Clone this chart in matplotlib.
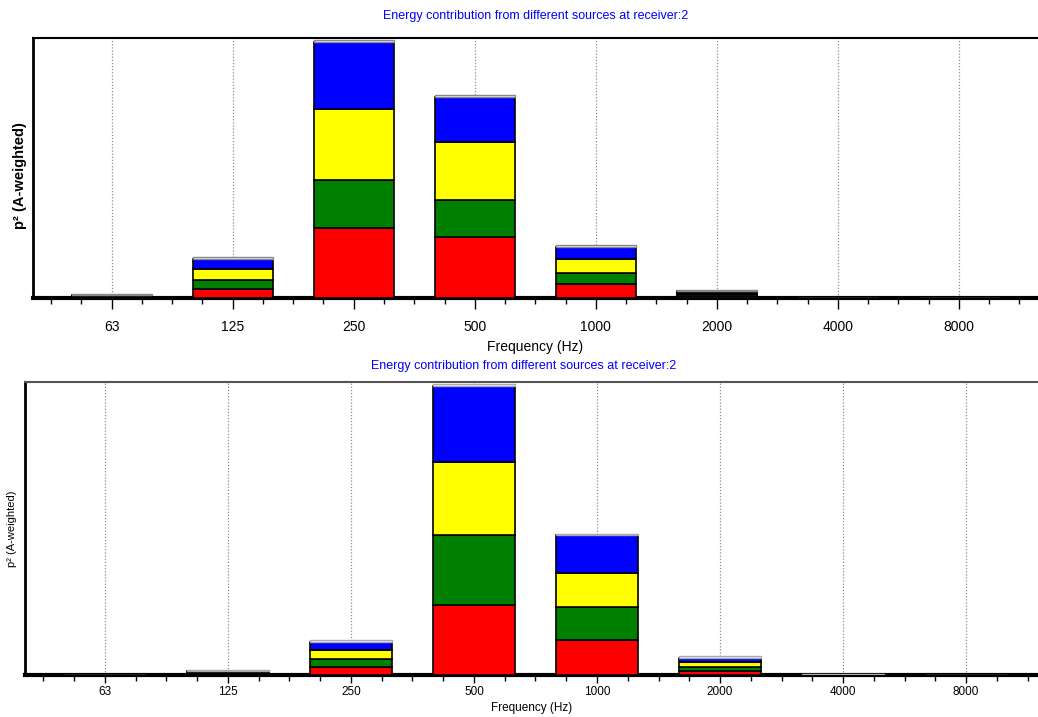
import matplotlib
matplotlib.use("Agg")
from matplotlib import pyplot as plt
from matplotlib.ticker import MultipleLocator
import numpy as np

freqs = ["63", "125", "250", "500", "1000", "2000", "4000", "8000"]

# p^2 per source, stacked bottom-up (arbitrary units)
top_red = [1.0, 9, 70, 61, 14, 2, 0, 0]
top_green = [1.5, 9, 48, 37, 11, 2, 0, 0]
top_yellow = [0.5, 11, 71, 58, 14, 1.5, 0, 0]
top_blue = [0.5, 10, 67, 45, 12, 1.5, 0, 0]
top_other = [1, 2, 2, 2, 2, 1, 0, 0]

bot_red = [0, 1.5, 8, 70, 35, 4, 0, 0]
bot_green = [0, 1, 8, 70, 33, 4, 0, 0]
bot_yellow = [0, 1, 9, 73, 34, 5, 0, 0]
bot_blue = [0, 1, 8, 76, 38, 4, 0, 0]
bot_other = [0, 1, 2, 2, 1.5, 2, 1, 0]

colors = ["#ff0000", "#008000", "#ffff00", "#0000ff"]
title = "Energy contribution from different sources at receiver:2"

fonts = ["Liberation Sans", "DejaVu Sans"]

fig = plt.figure(figsize=(10.38, 7.17), dpi=100)


def draw(ax, series, other, ylim, xlim, tsize, lsize, ysize, ybold, other_edge,
         ticklen, tickpad, xlabpad):
    x = np.arange(len(freqs))
    ax.set_axisbelow(True)
    ax.grid(True, axis="x", which="major", linestyle=(0, (1, 1.5)), color="#8c8c8c", linewidth=0.9)
    bottom = np.zeros(len(freqs))
    for vals, c in zip(series, colors):
        ax.bar(x, vals, width=0.66, bottom=bottom, color=c, edgecolor="black", linewidth=1.2, zorder=3)
        bottom += np.array(vals)
    ax.bar(x, other, width=0.66, bottom=bottom, color="white", edgecolor=other_edge, linewidth=1.0, zorder=3)

    ax.set_xlim(*xlim)
    ax.set_ylim(*ylim)
    ax.set_xticks(x)
    ax.set_xticklabels(freqs, family=fonts, fontsize=lsize)
    ax.xaxis.set_minor_locator(MultipleLocator(0.25))
    ax.tick_params(axis="x", which="major", length=ticklen, width=1, direction="out", pad=tickpad)
    ax.tick_params(axis="x", which="minor", length=4, width=1, direction="out")
    ax.set_yticks([])
    ax.set_xlabel("Frequency (Hz)", family=fonts, fontsize=lsize, labelpad=xlabpad)
    ax.set_ylabel("p\u00b2 (A-weighted)", family=fonts, fontsize=ysize,
                  fontweight="bold" if ybold else "normal", labelpad=6)
    ax.spines["right"].set_visible(False)
    ax.spines["bottom"].set_linewidth(3)
    ax.spines["left"].set_linewidth(2)
    ax.spines["top"].set_linewidth(1.5)


ax1 = fig.add_axes([33 / 1038, 1 - 298 / 717, 1 - 33 / 1038, (298 - 38) / 717])
draw(ax1, [top_red, top_green, top_yellow, top_blue], top_other, (0, 260), (-0.65, 7.653),
     9, 10, 10.5, True, "#888888", 8, 8, 4)
ax1.set_title(title, color="#0000ff", family=fonts, fontsize=9, pad=14)
ax1.yaxis.set_label_coords(-0.006, 0.47)

ax2 = fig.add_axes([25 / 1038, 1 - 675 / 717, 1 - 25 / 1038, (675 - 382) / 717])
draw(ax2, [bot_red, bot_green, bot_yellow, bot_blue], bot_other, (0, 293), (-0.65, 7.585),
     8.8, 8.5, 8, False, "#aaaaaa", 6, 2, 3)
ax2.set_title(title, color="#0000ff", family=fonts, fontsize=9, pad=9, x=0.4926)
ax2.spines["top"].set_color("#555555")

fig.savefig("out.png", dpi=100)
